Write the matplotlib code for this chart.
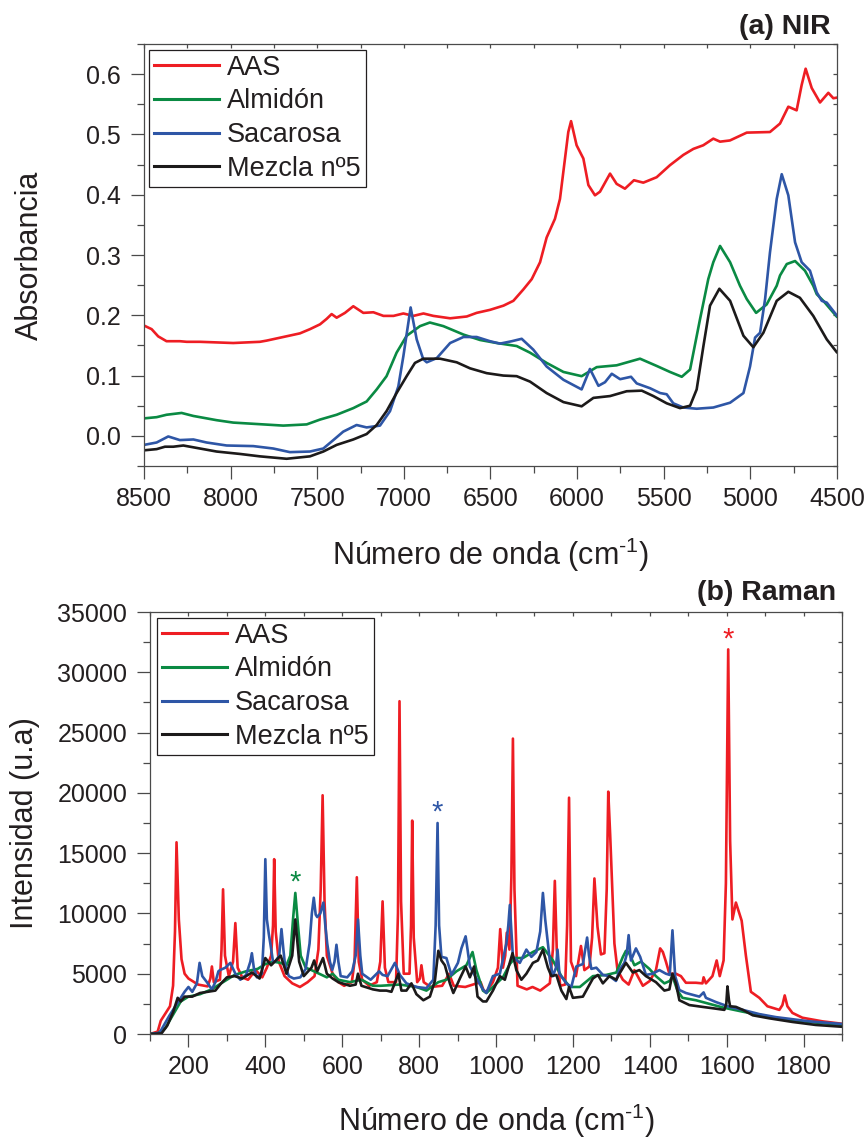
import matplotlib
matplotlib.use('Agg')
import matplotlib.pyplot as plt
from matplotlib.ticker import MultipleLocator

plt.rcParams['font.family'] = ['Liberation Sans', 'DejaVu Sans']
plt.rcParams['mathtext.fontset'] = 'custom'
plt.rcParams['mathtext.rm'] = 'Liberation Sans'

#####
# (a) NIR spectra: wavenumber (cm-1) and absorbance
nir_aas_wn = [8500, 8456, 8418, 8370, 8293, 8254, 8177, 7985, 7831, 7792, 7696, 7600, 7542, 7484, 7446,
              7417, 7388, 7340, 7292, 7234, 7176, 7118, 7060, 7003, 6945, 6887, 6830, 6733, 6637, 6580,
              6503, 6425, 6368, 6310, 6262, 6214, 6176, 6128, 6099, 6070, 6051, 6035, 6003, 5964, 5935,
              5897, 5868, 5810, 5772, 5724, 5672, 5618, 5541, 5464, 5387, 5329, 5272, 5214, 5175, 5118,
              5021, 4887, 4829, 4781, 4733, 4704, 4681, 4646, 4598, 4550, 4521, 4502]
nir_aas = [0.183, 0.177, 0.165, 0.157, 0.157, 0.156, 0.156, 0.154, 0.156, 0.158, 0.164, 0.170, 0.177, 0.185, 0.194,
           0.202, 0.196, 0.204, 0.215, 0.204, 0.205, 0.199, 0.199, 0.203, 0.199, 0.203, 0.199, 0.195, 0.198, 0.204,
           0.209, 0.216, 0.224, 0.243, 0.260, 0.288, 0.329, 0.360, 0.393, 0.460, 0.504, 0.522, 0.482, 0.460, 0.416,
           0.399, 0.405, 0.435, 0.418, 0.410, 0.424, 0.420, 0.429, 0.449, 0.466, 0.476, 0.482, 0.493, 0.488, 0.490,
           0.503, 0.504, 0.518, 0.546, 0.540, 0.582, 0.609, 0.577, 0.553, 0.569, 0.560, 0.561]

nir_alm_wn = [8500, 8427, 8370, 8283, 8215, 8081, 7985, 7869, 7696, 7561, 7484, 7388, 7292, 7215, 7157,
              7100, 7042, 6984, 6907, 6850, 6772, 6656, 6560, 6464, 6349, 6272, 6176, 6079, 5974, 5887,
              5772, 5637, 5541, 5464, 5396, 5348, 5291, 5243, 5214, 5175, 5117, 5060, 5021, 4967, 4906,
              4848, 4829, 4790, 4742, 4685, 4637, 4617, 4579, 4502]
nir_alm = [0.029, 0.031, 0.035, 0.038, 0.033, 0.026, 0.022, 0.020, 0.017, 0.019, 0.027, 0.035, 0.046, 0.057, 0.077,
           0.099, 0.138, 0.166, 0.182, 0.188, 0.182, 0.168, 0.159, 0.154, 0.149, 0.138, 0.121, 0.106, 0.099, 0.114,
           0.117, 0.128, 0.116, 0.106, 0.098, 0.110, 0.193, 0.260, 0.288, 0.315, 0.288, 0.249, 0.227, 0.204, 0.218,
           0.249, 0.266, 0.285, 0.290, 0.274, 0.249, 0.235, 0.224, 0.198]

nir_sac_wn = [8500, 8427, 8360, 8293, 8215, 8139, 8023, 7869, 7754, 7658, 7542, 7465, 7407, 7350, 7273,
              7215, 7138, 7080, 7032, 7003, 6961, 6926, 6888, 6868, 6810, 6733, 6656, 6580, 6503, 6445,
              6377, 6320, 6253, 6176, 6079, 5974, 5926, 5877, 5839, 5800, 5752, 5689, 5656, 5579, 5521,
              5483, 5445, 5387, 5310, 5214, 5117, 5040, 5002, 4973, 4944, 4915, 4887, 4848, 4819, 4781,
              4742, 4704, 4656, 4617, 4588, 4559, 4502]
nir_sac = [-0.015, -0.011, -0.001, -0.007, -0.006, -0.011, -0.016, -0.017, -0.021, -0.027, -0.026, -0.021, -0.007, 0.007, 0.018,
           0.014, 0.017, 0.041, 0.082, 0.132, 0.213, 0.160, 0.127, 0.122, 0.129, 0.154, 0.164, 0.164, 0.157, 0.153,
           0.157, 0.161, 0.143, 0.115, 0.093, 0.077, 0.111, 0.083, 0.089, 0.103, 0.094, 0.098, 0.087, 0.079, 0.071,
           0.069, 0.054, 0.047, 0.045, 0.047, 0.055, 0.071, 0.115, 0.163, 0.171, 0.227, 0.304, 0.393, 0.434, 0.399,
           0.321, 0.288, 0.274, 0.238, 0.224, 0.221, 0.200]

nir_mez_wn = [8500, 8427, 8379, 8331, 8273, 8177, 8081, 7946, 7831, 7677, 7542, 7465, 7388, 7292, 7215,
              7157, 7100, 7042, 6984, 6936, 6888, 6791, 6695, 6618, 6522, 6426, 6349, 6272, 6176, 6079,
              5974, 5906, 5810, 5714, 5627, 5560, 5483, 5406, 5348, 5310, 5271, 5233, 5179, 5117, 5040,
              4983, 4925, 4848, 4781, 4714, 4637, 4559, 4502]
nir_mez = [-0.024, -0.022, -0.018, -0.018, -0.016, -0.021, -0.026, -0.030, -0.034, -0.038, -0.034, -0.026, -0.015, -0.006, 0.003,
           0.018, 0.041, 0.071, 0.099, 0.121, 0.128, 0.128, 0.122, 0.112, 0.104, 0.100, 0.099, 0.090, 0.071, 0.056,
           0.049, 0.063, 0.066, 0.074, 0.075, 0.066, 0.054, 0.046, 0.050, 0.077, 0.149, 0.216, 0.244, 0.224, 0.166,
           0.147, 0.171, 0.224, 0.239, 0.229, 0.199, 0.160, 0.139]

#####
# (b) Raman spectra: Raman shift (cm-1) and intensity (u.a)
ram_aas_wn = [100, 120, 128, 140, 152, 160, 165, 169, 175, 182, 190, 200, 225, 250, 257, 261, 266, 282, 286, 290,
              295, 305, 316, 322, 328, 340, 355, 375, 392, 404, 415, 420, 423, 427, 435, 450, 470, 490, 510, 528,
              538, 544, 549, 554, 560, 575, 590, 605, 625, 632, 638, 643, 652, 670, 690, 699, 705, 711, 720, 740,
              745, 749, 753, 760, 775, 779, 782, 786, 795, 802, 806, 812, 830, 860, 878, 890, 920, 950, 960, 968,
              975, 992, 1005, 1011, 1018, 1024, 1028, 1035, 1040, 1044, 1048, 1056, 1080, 1095, 1115, 1140, 1148, 1153, 1158, 1167,
              1180, 1185, 1190, 1195, 1208, 1221, 1230, 1243, 1250, 1256, 1264, 1273, 1282, 1288, 1292, 1297, 1308, 1316, 1330, 1345,
              1360, 1382, 1400, 1416, 1427, 1434, 1442, 1451, 1468, 1481, 1494, 1520, 1537, 1540, 1546, 1563, 1574, 1582, 1592, 1598,
              1604, 1609, 1615, 1624, 1631, 1639, 1650, 1663, 1685, 1706, 1737, 1745, 1751, 1758, 1771, 1797, 1849, 1900]
ram_aas = [0, 200, 1100, 1700, 2300, 4000, 8500, 15900, 9500, 6200, 5000, 4600, 4100, 3950, 4600, 5600, 4300, 4500, 7000, 12000,
           6500, 4800, 6000, 9200, 5500, 4700, 4500, 5300, 4700, 5500, 6500, 9000, 14500, 8500, 6000, 4800, 4200, 3900, 4300, 4800,
           7000, 12000, 19800, 11000, 6500, 5000, 4300, 4000, 4300, 6000, 13000, 6000, 4500, 4000, 4300, 6000, 11000, 5500, 4300, 4300,
           10000, 27600, 11000, 5000, 5000, 9000, 17700, 8000, 4300, 4600, 5700, 4300, 3900, 4000, 5000, 4000, 3900, 4200, 4300, 3600,
           3500, 4300, 5500, 8700, 5500, 6500, 8400, 7000, 13000, 24500, 12000, 4000, 3700, 3900, 3600, 4200, 7000, 12700, 7000, 4000,
           4100, 9000, 19600, 6000, 4800, 7300, 5300, 5600, 8000, 12900, 8900, 6600, 6700, 12000, 20100, 16500, 7500, 5300, 4500, 4100,
           5300, 4000, 4400, 5300, 7100, 6800, 6000, 5000, 5000, 4800, 4250, 4250, 4200, 4700, 4200, 4800, 6100, 4800, 6100, 12500,
           31900, 16000, 9500, 10900, 10200, 9400, 6500, 3500, 3000, 2300, 2000, 2400, 3200, 2300, 1750, 1350, 1050, 850]

ram_alm_wn = [100, 120, 140, 160, 180, 200, 230, 260, 290, 320, 350, 380, 400, 420, 440, 455, 465, 472, 478, 485,
              492, 505, 520, 540, 560, 575, 590, 620, 650, 680, 700, 750, 793, 819, 850, 871, 897, 923, 939, 949,
              966, 975, 992, 1018, 1036, 1049, 1070, 1096, 1122, 1148, 1170, 1192, 1218, 1252, 1287, 1313, 1330, 1338, 1345, 1360,
              1377, 1399, 1416, 1438, 1452, 1459, 1472, 1485, 1520, 1555, 1590, 1642, 1685, 1728, 1815, 1900]
ram_alm = [0, 50, 500, 1600, 2700, 3100, 3300, 3700, 4300, 4900, 5200, 5400, 5800, 6000, 5900, 5700, 6500, 9500, 11700, 9000,
           6500, 5500, 5300, 5000, 4700, 5000, 4500, 4300, 4500, 4000, 4000, 4100, 3900, 3600, 4300, 4500, 5200, 5700, 6800, 5300,
           3600, 3400, 3900, 4700, 5800, 6300, 6300, 6800, 7200, 6100, 4800, 3900, 3900, 4800, 4900, 5100, 6400, 6900, 6800, 5700,
           6000, 5400, 4800, 4200, 4400, 4800, 3600, 3000, 2800, 2500, 2200, 1850, 1600, 1300, 1000, 750]

ram_sac_wn = [100, 125, 150, 170, 190, 200, 210, 222, 229, 236, 248, 261, 270, 278, 282, 296, 309, 322, 335, 350,
              361, 365, 370, 378, 391, 396, 400, 404, 409, 413, 420, 426, 436, 442, 447, 451, 461, 474, 491, 505,
              515, 521, 526, 531, 535, 543, 551, 556, 561, 568, 574, 580, 585, 590, 596, 613, 626, 635, 641, 647,
              652, 674, 696, 705, 718, 737, 750, 767, 793, 819, 837, 843, 848, 852, 858, 871, 884, 901, 910, 921,
              926, 932, 949, 966, 975, 992, 1010, 1027, 1032, 1036, 1040, 1044, 1062, 1079, 1092, 1105, 1115, 1122, 1128, 1140,
              1148, 1156, 1160, 1165, 1183, 1196, 1209, 1226, 1232, 1237, 1242, 1248, 1261, 1278, 1295, 1312, 1321, 1334, 1340, 1345,
              1351, 1364, 1375, 1390, 1407, 1425, 1442, 1452, 1459, 1466, 1477, 1494, 1529, 1540, 1546, 1572, 1607, 1642, 1685, 1728,
              1815, 1900]
ram_sac = [0, 100, 1500, 2500, 3500, 3900, 3500, 4200, 5900, 4800, 4300, 3700, 4300, 5200, 5300, 5500, 5900, 5000, 4500, 4900,
           6000, 6700, 5500, 4700, 5000, 8000, 14500, 9500, 8300, 7500, 6000, 6000, 6500, 8700, 7000, 5800, 4800, 4600, 4700, 5400,
           7500, 10000, 11300, 9900, 9700, 10000, 10900, 9000, 7500, 6000, 5300, 6000, 7400, 6000, 4800, 4700, 5200, 6500, 9500, 6500,
           5000, 4500, 5200, 4900, 4800, 5900, 4900, 4200, 3900, 3800, 4500, 9000, 17500, 9000, 6400, 6300, 4900, 5900, 7100, 8100,
           7000, 5600, 4600, 3700, 3400, 4800, 5000, 7500, 9000, 10700, 8500, 6400, 5900, 7000, 6400, 6800, 8500, 11700, 9500, 6100,
           4800, 5500, 7000, 5000, 4200, 3900, 5600, 5800, 7000, 8000, 6500, 5400, 5500, 4900, 4800, 4400, 5300, 5900, 6600, 8200,
           6100, 7100, 6400, 4900, 5000, 5300, 5000, 4900, 8600, 4800, 3650, 3400, 3100, 3450, 3000, 2650, 2250, 2000, 1650, 1400,
           1050, 830]

ram_mez_wn = [100, 130, 145, 160, 172, 180, 190, 210, 230, 250, 270, 285, 300, 320, 340, 365, 385, 400, 415, 440,
              455, 470, 478, 488, 500, 520, 527, 535, 550, 560, 575, 590, 620, 635, 641, 650, 680, 698, 715, 728,
              746, 754, 767, 780, 793, 811, 828, 841, 850, 858, 867, 880, 889, 906, 921, 932, 943, 952, 966, 975,
              992, 1010, 1023, 1043, 1053, 1066, 1079, 1096, 1109, 1122, 1135, 1144, 1157, 1170, 1183, 1190, 1200, 1226, 1252, 1265,
              1278, 1295, 1313, 1321, 1338, 1356, 1373, 1390, 1416, 1438, 1451, 1459, 1468, 1477, 1503, 1537, 1572, 1594, 1599, 1602,
              1606, 1609, 1624, 1642, 1668, 1711, 1771, 1832, 1900]
ram_mez = [0, 50, 700, 1800, 3000, 2700, 3100, 3100, 3400, 3500, 3600, 4200, 4700, 4800, 4600, 5100, 4600, 6300, 5700, 6500,
           5000, 6500, 9500, 6000, 4800, 5500, 6100, 5200, 6300, 5000, 4600, 4300, 4000, 4100, 5000, 4000, 3700, 3600, 3600, 3500,
           5000, 3600, 3600, 4200, 3300, 2800, 3100, 4400, 6900, 6100, 5700, 4200, 3400, 4600, 5600, 4700, 5600, 3100, 2700, 2700,
           3600, 4800, 4500, 6700, 5300, 4500, 5000, 5900, 6100, 7000, 5500, 4800, 4900, 3600, 2900, 3900, 3000, 3100, 4600, 4900,
           4200, 4800, 4500, 5000, 5900, 5100, 5300, 4800, 4300, 3600, 3700, 5000, 4200, 2800, 2400, 2250, 2100, 2000, 2500, 3950,
           2800, 2300, 2250, 2000, 1550, 1300, 1000, 750, 600]

labels = ['AAS', 'Almidón', 'Sacarosa', 'Mezcla nº5']
colors = ['#ee1d23', '#0a8a43', '#2e56a6', '#1c1a1a']
# peaks marked with an asterisk in panel (b): (series index, shift, intensity)
marked_peaks = [(1, 478, 11700), (2, 848, 17500), (0, 1604, 31900)]

spine_c = '#4a4a4a'
text_c = '#231f20'
xlab = 'Número de onda (cm$^{\\text{-1}}$)'


def style_axes(ax, xmaj, xmin, ymaj, ymin):
    for s in ax.spines.values():
        s.set_color(spine_c)
        s.set_linewidth(0.9)
    ax.xaxis.set_major_locator(MultipleLocator(xmaj))
    ax.xaxis.set_minor_locator(MultipleLocator(xmin))
    ax.yaxis.set_major_locator(MultipleLocator(ymaj))
    ax.yaxis.set_minor_locator(MultipleLocator(ymin))
    ax.tick_params(which='major', direction='out', length=9.4, width=0.9, color=spine_c,
                   labelsize=18, labelcolor=text_c)
    ax.tick_params(which='minor', direction='out', length=4.7, width=0.9, color=spine_c)
    ax.tick_params(axis='x', which='major', pad=6)
    ax.tick_params(axis='y', which='major', pad=7)
    # Origin-style inner ticks on the opposite spines, no labels
    top = ax.secondary_xaxis('top')
    right = ax.secondary_yaxis('right')
    for sec, axis in [(top, top.xaxis), (right, right.yaxis)]:
        axis.set_major_locator(MultipleLocator(xmaj if sec is top else ymaj))
        axis.set_minor_locator(MultipleLocator(xmin if sec is top else ymin))
        sec.tick_params(which='both', direction='in', length=3, width=0.9, color=spine_c,
                        labelleft=False, labelright=False, labeltop=False, labelbottom=False)
        for s in sec.spines.values():
            s.set_visible(False)


def add_legend(ax, dx, dy):
    leg = ax.legend(loc='upper left', bbox_to_anchor=(dx, 1 - dy), borderaxespad=0,
                    fontsize=19.5, frameon=True, fancybox=False, framealpha=1,
                    handlelength=2.4, handletextpad=0.3, labelspacing=0.28,
                    borderpad=0.18)
    leg.get_frame().set_edgecolor('#231f20')
    leg.get_frame().set_linewidth(0.9)
    for t in leg.get_texts():
        t.set_color(text_c)
    for h in leg.get_lines():
        h.set_linewidth(2.2)


fig = plt.figure(figsize=(8.68, 11.41), dpi=100)

###
# (a) NIR
ax1 = fig.add_axes([144 / 868, 1 - 466 / 1141, 693 / 868, 422 / 1141])
for wn, a, lab, c in zip([nir_aas_wn, nir_alm_wn, nir_sac_wn, nir_mez_wn],
                         [nir_aas, nir_alm, nir_sac, nir_mez], labels, colors):
    ax1.plot(wn, a, color=c, lw=1.9, label=lab)
ax1.set_xlim(8500, 4500)
ax1.set_ylim(-0.05, 0.65)
style_axes(ax1, 500, 250, 0.1, 0.05)
ax1.yaxis.set_major_formatter(matplotlib.ticker.FormatStrFormatter('%.1f'))
add_legend(ax1, 5 / 693, 6 / 422)
ax1.set_ylabel('Absorbancia', fontsize=22, color=text_c)
ax1.yaxis.set_label_coords(-0.153, 0.5)
ax1.yaxis.label.set_verticalalignment('baseline')
ax1.set_xlabel(xlab, fontsize=22, color=text_c)
ax1.xaxis.set_label_coords(0.5, -0.2346)
ax1.xaxis.label.set_verticalalignment('baseline')
ax1.text(0.991, 1 + 10 / 422, '(a) NIR', transform=ax1.transAxes, ha='right', va='baseline',
         fontsize=20.5, fontweight='bold', color=text_c)

###
# (b) Raman
ax2 = fig.add_axes([150 / 868, 1 - 1034 / 1141, 692 / 868, 422 / 1141])
for wn, a, lab, c in zip([ram_aas_wn, ram_alm_wn, ram_sac_wn, ram_mez_wn],
                         [ram_aas, ram_alm, ram_sac, ram_mez], labels, colors):
    ax2.plot(wn, a, color=c, lw=1.9, label=lab)
for i, x, y in marked_peaks:
    ax2.annotate('*', xy=(x, y), xytext=(0, 1.5), textcoords='offset points',
                 ha='center', va='baseline', fontsize=21, color=colors[i])
ax2.set_xlim(100, 1900)
ax2.set_ylim(0, 35000)
style_axes(ax2, 200, 100, 5000, 2500)
add_legend(ax2, 7 / 692, 6 / 422)
ax2.set_ylabel('Intensidad (u.a)', fontsize=22, color=text_c)
ax2.yaxis.set_label_coords(-0.169, 0.5)
ax2.yaxis.label.set_verticalalignment('baseline')
ax2.set_xlabel(xlab, fontsize=22, color=text_c)
ax2.xaxis.set_label_coords(0.5, -0.229)
ax2.xaxis.label.set_verticalalignment('baseline')
ax2.text(0.992, 1 + 12 / 422, '(b) Raman', transform=ax2.transAxes, ha='right', va='baseline',
         fontsize=20.5, fontweight='bold', color=text_c)

fig.savefig('out.png', dpi=100)
